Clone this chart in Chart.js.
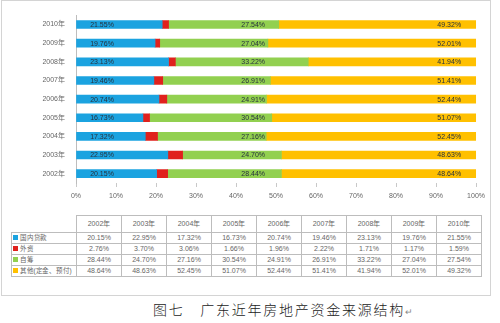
<!DOCTYPE html>
<html lang="zh-CN">
<head>
<meta charset="utf-8">
<script src="https://cdn.jsdelivr.net/npm/chart.js@4.4.1/dist/chart.umd.min.js"></script>
<style>
body{margin:0;background:#fff;width:500px;height:323px;overflow:hidden;font-family:"Liberation Sans",Arial,sans-serif;}
#box{position:absolute;left:1px;top:0;width:490px;height:296px;border:1px solid #d4d4d4;box-sizing:border-box;}
#wrap{position:absolute;left:0;top:0;width:490px;height:205px;}
#tbl{position:absolute;left:11px;top:215px;border-collapse:collapse;table-layout:fixed;width:471px;font-size:7px;color:#666;}
#tbl td{border:1px solid #bdbdbd;height:10px;line-height:10px;text-align:center;padding:0;white-space:nowrap;overflow:hidden;}
#tbl tr.hd td{height:16px;}
#tbl tr.hd td.blank{border:none;}
#tbl td.lg{text-align:left;padding-left:1px;font-size:6.5px;letter-spacing:-0.2px;}
#tbl td.lg i{display:inline-block;width:5px;height:5px;margin-right:2px;vertical-align:0;}
#cap{position:absolute;left:153px;top:301px;font-family:"Noto Sans CJK SC",sans-serif;font-size:14px;font-weight:300;letter-spacing:1.75px;color:#222;white-space:nowrap;line-height:16px;}
#cap span{font-size:9px;color:#888;letter-spacing:0;}
</style>
</head>
<body>
<div id="box"></div>
<div id="wrap"><canvas id="c" width="490" height="205"></canvas></div>
<table id="tbl"></table>
<div id="cap">图七　广东近年房地产资金来源结构<span>↵</span></div>
<script>
/* ===== dados ===== */
const years = ['2002年','2003年','2004年','2005年','2006年','2007年','2008年','2009年','2010年'];
const loans      = [20.15, 22.95, 17.32, 16.73, 20.74, 19.46, 23.13, 19.76, 21.55]; // 国内贷款
const foreign    = [ 2.76,  3.70,  3.06,  1.66,  1.96,  2.22,  1.71,  1.17,  1.59]; // 外资
const selfRaised = [28.44, 24.70, 27.16, 30.54, 24.91, 26.91, 33.22, 27.04, 27.54]; // 自筹
const others     = [48.64, 48.63, 52.45, 51.07, 52.44, 51.41, 41.94, 52.01, 49.32]; // 其他
const seriesNames = ['国内贷款','外资','自筹','其他(定金、预付)'];
const xTicks = [0,10,20,30,40,50,60,70,80,90,100];

const colors = ['#1ba3e0','#e0211d','#92d050','#ffc000'];
const series = [loans, foreign, selfRaised, others];
const pct = v => v.toFixed(2)+'%';

/* ===== rótulos fixos sobre as barras ===== */
const labelAt = [6.5, null, 44.3, 93.3]; // posição no eixo x (%)
const fixedLabels = {
  id:'fixedLabels',
  afterDatasetsDraw(chart){
    const {ctx, scales:{x}} = chart;
    ctx.save();
    ctx.font = '7px "Liberation Sans", Arial';
    ctx.fillStyle = '#26313d';
    ctx.textAlign = 'center';
    ctx.textBaseline = 'middle';
    labelAt.forEach((pos,di)=>{
      if(pos==null) return;
      chart.getDatasetMeta(di).data.forEach((bar,i)=>{
        ctx.fillText(pct(series[di][i]), x.getPixelForValue(pos), bar.y+0.5);
      });
    });
    ctx.restore();
  }
};

new Chart(document.getElementById('c'),{
  type:'bar',
  data:{
    labels:years,
    datasets:series.map((d,i)=>({label:seriesNames[i], data:d, backgroundColor:colors[i], barThickness:8, borderWidth:0}))
  },
  options:{
    indexAxis:'y',
    responsive:false,
    animation:false,
    layout:{padding:{top:12,right:8,left:0,bottom:0}},
    plugins:{legend:{display:false}, tooltip:{enabled:false}},
    scales:{
      x:{
        stacked:true, min:0, max:100,
        afterBuildTicks:s=>{ s.ticks = xTicks.map(v=>({value:v})); },
        afterFit:s=>{ s.height = 22; },
        grid:{display:true, drawOnChartArea:false, drawTicks:true, tickLength:4, color:'#c8c8c8'},
        border:{display:false},
        ticks:{padding:5, color:'#666', font:{size:7, family:'"Liberation Sans", Arial'}, callback:v=>v+'%'}
      },
      y:{
        stacked:true, reverse:true,
        afterFit:s=>{ s.width = 76; },
        grid:{display:false, drawTicks:false},
        border:{display:true, color:'#bdbdbd'},
        ticks:{padding:11, color:'#666', font:{size:7, family:'"Liberation Sans", Arial'}}
      }
    }
  },
  plugins:[fixedLabels]
});

/* ===== tabela de dados ===== */
const tbl = document.getElementById('tbl');
let html = '<colgroup><col style="width:65px">' + years.map(()=> '<col style="width:45px">').join('') + '</colgroup>';
html += '<tr class="hd"><td class="blank"></td>' + years.map(y=>`<td>${y}</td>`).join('') + '</tr>';
series.forEach((d,i)=>{
  html += `<tr><td class="lg"><i style="background:${colors[i]}"></i>${seriesNames[i]}</td>` +
          d.map(v=>`<td>${pct(v)}</td>`).join('') + '</tr>';
});
tbl.innerHTML = html;
</script>
</body>
</html>
